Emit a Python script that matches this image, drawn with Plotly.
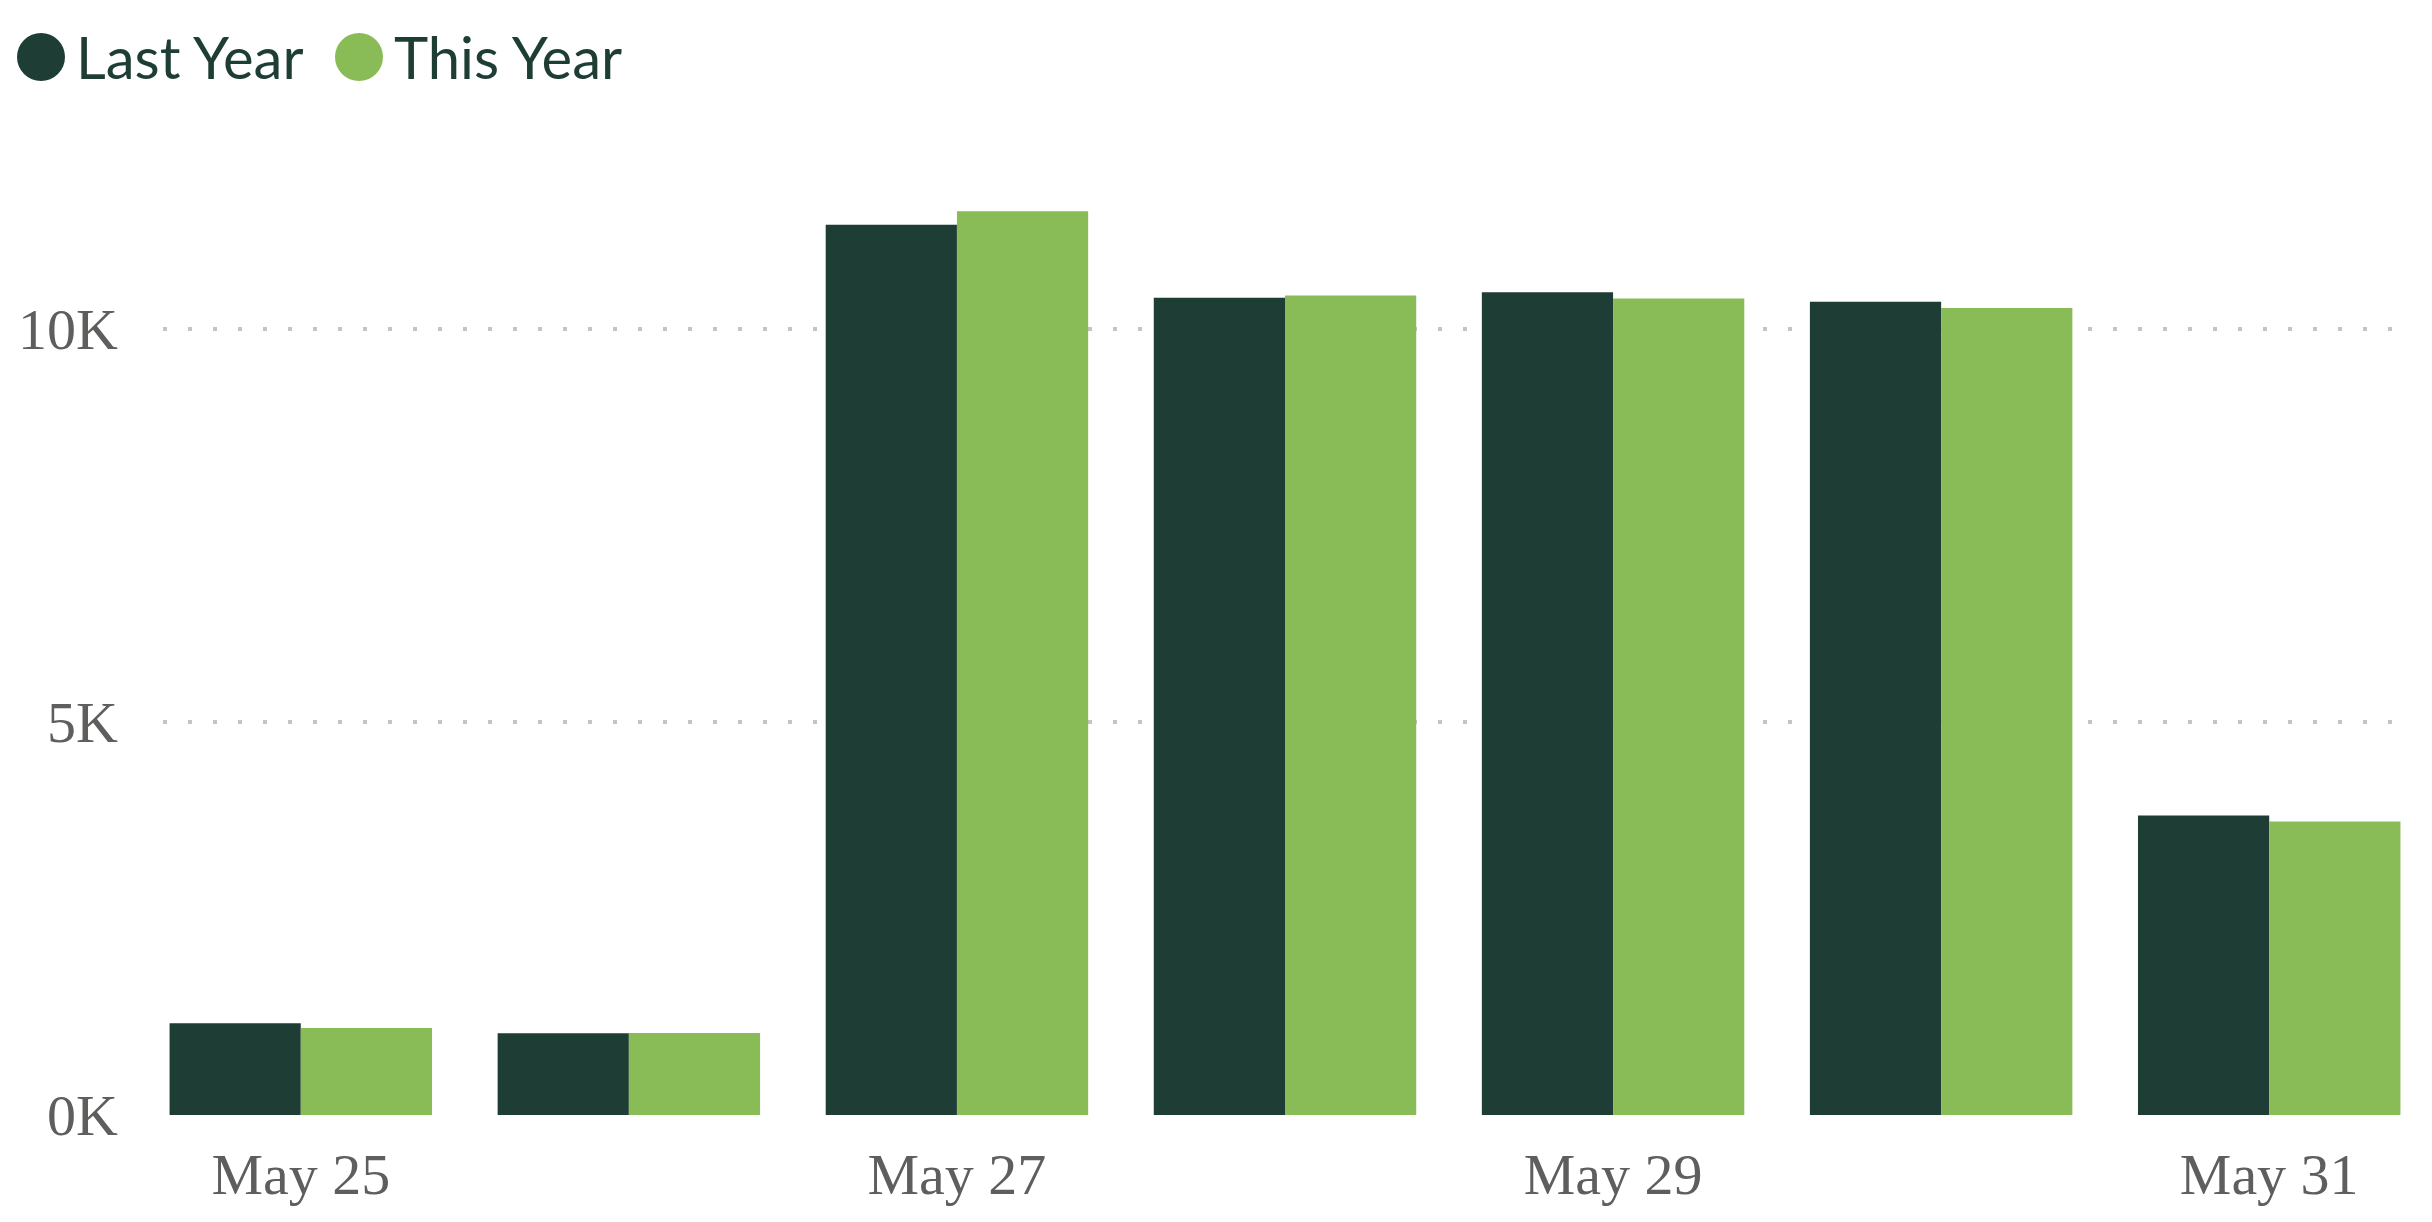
import plotly.graph_objects as go

# values
days = ["May 25", "May 26", "May 27", "May 28", "May 29", "May 30", "May 31"]
last_year = [1167, 1040, 11330, 10400, 10470, 10350, 3810]
this_year = [1106, 1043, 11500, 10430, 10390, 10270, 3735]
x_ticks = ["May 25", "May 27", "May 29", "May 31"]
y_ticks = [0, 5000, 10000]
y_tick_labels = ["0K", "5K", "10K"]
series_names = ["Last Year", "This Year"]

DARK = "#1E3D35"
LIGHT = "#89BB57"
GREY = "#605E5C"

# page body has an 8px margin, so the figure is made 16px smaller
# and every pixel position below is shifted by 8
OFF = 8
W, H = 2432 - 2 * OFF, 1222 - 2 * OFF
L, R, T, B = 163 - OFF, 25 - OFF, 172 - OFF, 107 - OFF


def px_x(p):
    return (p - OFF - L) / (W - L - R)


def px_y(p):
    return (H - B - (p - OFF)) / (H - T - B)


fig = go.Figure()
fig.add_bar(x=days, y=last_year, name=series_names[0],
            marker=dict(color=DARK, line=dict(width=0)), showlegend=False)
fig.add_bar(x=days, y=this_year, name=series_names[1],
            marker=dict(color=LIGHT, line=dict(width=0)), showlegend=False)

fig.update_layout(
    width=W, height=H,
    margin=dict(l=L, r=R, t=T, b=B, pad=0, autoexpand=False),
    paper_bgcolor="white", plot_bgcolor="white",
    barmode="group", bargap=0.2, bargroupgap=0,
    font=dict(family="Liberation Serif", size=58, color=GREY),
)
fig.update_xaxes(
    type="category", range=[-0.42, 6.42], automargin=False,
    tickmode="array", tickvals=x_ticks, ticktext=x_ticks,
    showgrid=False, showline=False, zeroline=False, ticks="",
    ticklabelstandoff=20,
    tickfont=dict(family="Liberation Serif", size=58, color=GREY),
)
fig.update_yaxes(
    range=[0, 12000], automargin=False,
    tickmode="array", tickvals=y_ticks, ticktext=y_tick_labels,
    showgrid=True, gridcolor="#C4C4C4", gridwidth=4, griddash="4px,21px",
    zeroline=False, showline=False, ticks="",
    ticklabelstandoff=44,
    tickfont=dict(family="Liberation Serif", size=58, color=GREY),
)

# legend drawn by hand so the dots can be as big as in the original
legend_items = [(series_names[0], DARK, 41, 74), (series_names[1], LIGHT, 359, 392)]
for name, col, cx, tx in legend_items:
    fig.add_shape(type="circle", xref="paper", yref="paper",
                  xsizemode="pixel", ysizemode="pixel",
                  xanchor=px_x(cx), yanchor=px_y(57),
                  x0=-24, x1=24, y0=-24, y1=24,
                  fillcolor=col, line=dict(width=0))
    fig.add_annotation(text=name, xref="paper", yref="paper",
                       x=px_x(tx), y=px_y(57), xanchor="left", yanchor="middle",
                       showarrow=False,
                       font=dict(family="Lato", size=58, color=DARK))

fig.write_html("out.html")
